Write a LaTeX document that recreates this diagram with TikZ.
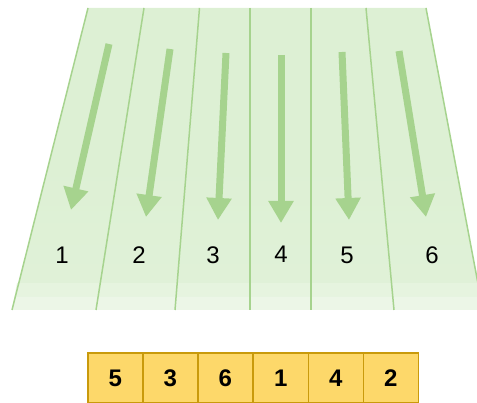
\documentclass[tikz,border=0pt]{standalone}
\usepackage{fontspec}
\setmainfont{Liberation Sans}
\usetikzlibrary{arrows.meta}
\definecolor{lane}{HTML}{A6D38E}
\definecolor{fieldtop}{HTML}{DDF0D4}
\definecolor{fieldbot}{HTML}{E6F4DF}
\definecolor{boxfill}{HTML}{FDD86A}
\definecolor{boxline}{HTML}{C99A0C}
\tikzset{
  divider/.style={draw=lane, line width=1.5pt},
  flowarrow/.style={draw=lane, line width=7pt, -{Triangle[width=24pt,length=22pt]}},
  lanelabel/.style={font=\fontsize{24}{24}\selectfont, text=black},
  cell/.style={draw=boxline, fill=boxfill, line width=1.8pt, minimum width=55pt, minimum height=50pt, inner sep=0pt, font=\fontsize{24}{24}\selectfont\bfseries, text=black, anchor=north west}
}
\begin{document}
\begin{tikzpicture}[x=1pt,y=-1pt]
\useasboundingbox (0,0) rectangle (477,403);
% field
\shade[top color=fieldtop, bottom color=fieldtop!60!fieldbot, middle color=fieldtop] (88,8) -- (426,8) -- (483,310) -- (12,310) -- cycle;
\fill[fieldbot] (17,283) -- (478,283) -- (483,310) -- (12,310) -- cycle;
\fill[white, opacity=0.25] (14,297) -- (481,297) -- (483,310) -- (12,310) -- cycle;
% edges and dividers
\coordinate (e0t) at (88,8);   \coordinate (e0b) at (12,310);
\coordinate (e1t) at (144,8);  \coordinate (e1b) at (96,310);
\coordinate (e2t) at (199.5,8);\coordinate (e2b) at (175,310);
\coordinate (e3t) at (250,8);  \coordinate (e3b) at (250,310);
\coordinate (e4t) at (311,8);  \coordinate (e4b) at (311,310);
\coordinate (e5t) at (366,8);  \coordinate (e5b) at (394,310);
\coordinate (e6t) at (426,8);  \coordinate (e6b) at (483,310);
\foreach \i in {0,...,6} { \draw[divider] (e\i t) -- (e\i b); }
% arrows
\coordinate (a1s) at (109,44);  \coordinate (a1e) at (71,210);
\coordinate (a2s) at (170,49);  \coordinate (a2e) at (146,217);
\coordinate (a3s) at (226,53);  \coordinate (a3e) at (218,220);
\coordinate (a4s) at (281,55);  \coordinate (a4e) at (281,223);
\coordinate (a5s) at (342,52);  \coordinate (a5e) at (349,220);
\coordinate (a6s) at (399,51);  \coordinate (a6e) at (426,217);
\foreach \i in {1,...,6} { \draw[flowarrow] (a\i s) -- (a\i e); }
% lane labels
\node[lanelabel] (l1) at (62,255) {1};
\node[lanelabel] (l2) at (139,255) {2};
\node[lanelabel] (l3) at (213,255) {3};
\node[lanelabel] (l4) at (281,254) {4};
\node[lanelabel] (l5) at (347,255) {5};
\node[lanelabel] (l6) at (432,255) {6};
% order boxes
\node[cell] (b1) at (87,352) {5};
\node[cell] (b2) at (142,352) {3};
\node[cell] (b3) at (197,352) {6};
\node[cell] (b4) at (252.5,352) {1};
\node[cell] (b5) at (307.5,352) {4};
\node[cell] (b6) at (362.5,352) {2};
\end{tikzpicture}
\end{document}
